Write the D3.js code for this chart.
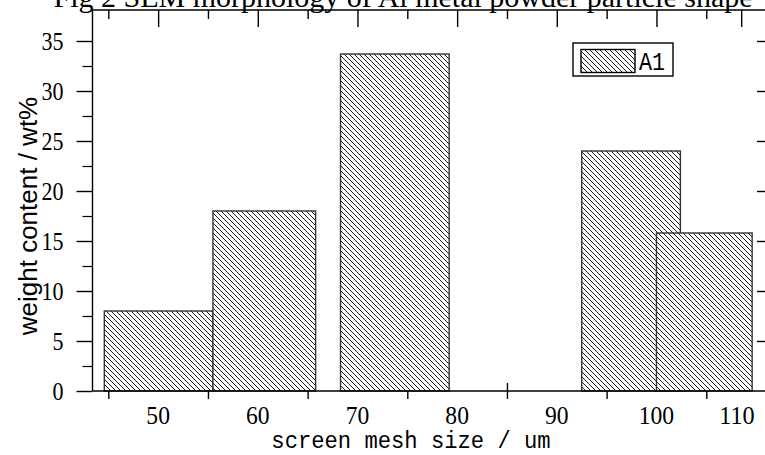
<!DOCTYPE html>
<html>
<head>
<meta charset="utf-8">
<script src="https://cdn.jsdelivr.net/npm/d3@7/dist/d3.min.js"></script>
<style>
    body { margin: 0; background: #fff; }
    svg { display: block; }
    .axis path, .axis line { stroke: #000; }
</style>
</head>
<body>
<svg id="chart" width="765" height="455"></svg>
<script>

// screen mesh size labels on the bottom axis
var meshLabels = [50, 60, 70, 80, 90, 100, 110];
// bin edges (in mesh size units) and weight content of each bar
var binStart = [44.6, 55.5, 68.3, 92.5, 100.0];
var binEnd = [55.5, 65.8, 79.2, 102.4, 109.6];
var weights = [8.0, 18.0, 33.7, 24.0, 15.8];
// tick values
var bottomTicks = [45, 55, 65, 75, 85, 95, 105];
var topTicks = [45, 50, 55, 60, 65, 70, 75, 80, 85, 90, 95, 100, 105, 108.5];
var yMajor = [0, 5, 10, 15, 20, 25, 30, 35];
var yMinor = [2.5, 7.5, 12.5, 17.5, 22.5, 27.5, 32.5];

barChart();

// narrow tall glyphs, like the original's font
function squeeze(sel, perChar) {
    sel.attr("textLength", function() { return this.textContent.length * perChar; })
        .attr("lengthAdjust", "spacingAndGlyphs");
}

function barChart() {

    var svg = d3.select("#chart"),
        left = 92.5, right = 766, top = 10, bottom = 391;

    var x = d3.scaleLinear().domain([45, 105]).range([108.3, 706.3]),
        y = d3.scaleLinear().domain([0, 38.1]).range([bottom, top]);

    var defs = svg.append("defs");
    var pat = defs.append("pattern")
        .attr("id", "hatch")
        .attr("patternUnits", "userSpaceOnUse")
        .attr("width", 5)
        .attr("height", 5);
    pat.append("rect").attr("width", 5).attr("height", 5).attr("fill", "#fff");
    pat.append("path")
        .attr("d", "M-1,-1L6,6M-1,4L1,6M4,-1L6,1")
        .attr("stroke", "#000")
        .attr("stroke-width", 0.9);

    // title, cut by the top of the picture
    svg.append("text")
        .attr("x", 403)
        .attr("y", 7)
        .attr("text-anchor", "middle")
        .style("font-family", "Liberation Serif")
        .style("font-size", "30px")
        .text("Fig 2 SEM morphology of Al metal powder particle shape");

    var data = weights.map(function(w, i) {
        return {x0: binStart[i], x1: binEnd[i], value: w};
    });

    svg.selectAll(".bar")
        .data(data)
        .enter().append("rect")
        .attr("class", "bar")
        .attr("x", function(d) { return x(d.x0); })
        .attr("y", function(d) { return y(d.value); })
        .attr("width", function(d) { return x(d.x1) - x(d.x0); })
        .attr("height", function(d) { return bottom - y(d.value); })
        .attr("fill", "url(#hatch)")
        .attr("stroke", "#333")
        .attr("stroke-width", 1.4);

    // frame
    svg.append("path")
        .attr("d", "M" + left + "," + bottom + "V" + top + "H" + right)
        .attr("fill", "none")
        .attr("stroke", "#000")
        .attr("stroke-width", 1.4);
    svg.append("line")
        .attr("x1", left).attr("x2", right)
        .attr("y1", bottom).attr("y2", bottom)
        .attr("stroke", "#000")
        .attr("stroke-width", 1.4);

    // bottom ticks
    var gb = svg.append("g")
        .attr("class", "axis")
        .attr("transform", "translate(0," + bottom + ")")
        .call(d3.axisBottom(x).tickValues(bottomTicks).tickSize(8).tickFormat(""));
    gb.select(".domain").remove();
    gb.selectAll(".tick line")
        .attr("stroke-width", 1.4)
        .attr("y1", function(d) { return d === 85 ? -8 : 0; });

    // bottom labels sit between the ticks
    svg.selectAll(".xlab")
        .data(meshLabels)
        .enter().append("text")
        .attr("class", "xlab")
        .attr("x", function(d) { return Math.min(x(d), 737); })
        .attr("y", 424)
        .attr("text-anchor", "middle")
        .style("font-family", "Liberation Serif")
        .style("font-size", "26px")
        .text(function(d) { return d; })
        .call(squeeze, 11.8);

    // top ticks, alternate long / short
    var gt = svg.append("g")
        .attr("class", "axis")
        .attr("transform", "translate(0," + top + ")")
        .call(d3.axisTop(x).tickValues(topTicks).tickFormat(""));
    gt.select(".domain").remove();
    gt.selectAll(".tick line")
        .attr("stroke-width", 1.4)
        .attr("y2", function(d) { return (d % 10 === 0 || d > 105) ? 17 : 9; });

    // left axis
    var gl = svg.append("g")
        .attr("class", "axis")
        .attr("transform", "translate(" + left + ",0)")
        .call(d3.axisLeft(y).tickValues(yMajor).tickSize(16).tickPadding(13));
    gl.select(".domain").remove();
    gl.selectAll(".tick line").attr("stroke-width", 1.4);
    gl.selectAll(".tick text")
        .style("font-family", "Liberation Serif")
        .style("font-size", "26px")
        .attr("fill", "#000")
        .call(squeeze, 11);

    var glm = svg.append("g")
        .attr("class", "axis")
        .attr("transform", "translate(" + left + ",0)")
        .call(d3.axisLeft(y).tickValues(yMinor).tickSize(10).tickFormat(""));
    glm.select(".domain").remove();
    glm.selectAll(".tick line").attr("stroke-width", 1.2);

    // right axis, ticks point inward
    var gr = svg.append("g")
        .attr("class", "axis")
        .attr("transform", "translate(765,0)")
        .call(d3.axisLeft(y).tickValues(yMajor.slice(1)).tickSize(-8).tickFormat(""));
    gr.select(".domain").remove();
    gr.selectAll(".tick line").attr("x2", -8).attr("stroke-width", 1.4);

    // axis titles
    svg.append("text")
        .attr("x", 411)
        .attr("y", 448)
        .attr("text-anchor", "middle")
        .style("font-family", "Liberation Mono")
        .style("font-size", "24px")
        .text("screen mesh size / um")
        .call(squeeze, 13.3);

    svg.append("text")
        .attr("transform", "translate(37,216) rotate(-90)")
        .attr("text-anchor", "middle")
        .style("font-family", "Liberation Sans")
        .style("font-size", "26px")
        .text("weight content / wt%");

    // legend
    var lg = svg.append("g");
    lg.append("rect")
        .attr("x", 573).attr("y", 43)
        .attr("width", 100).attr("height", 33)
        .attr("fill", "#fff")
        .attr("stroke", "#000")
        .attr("stroke-width", 1.4);
    lg.append("rect")
        .attr("x", 581).attr("y", 49.5)
        .attr("width", 54).attr("height", 23)
        .attr("fill", "url(#hatch)")
        .attr("stroke", "#000")
        .attr("stroke-width", 1.4);
    lg.append("text")
        .attr("x", 639).attr("y", 70)
        .style("font-family", "Liberation Mono")
        .style("font-size", "25px")
        .text("A1")
        .call(squeeze, 13);
}

</script>
</body>
</html>
